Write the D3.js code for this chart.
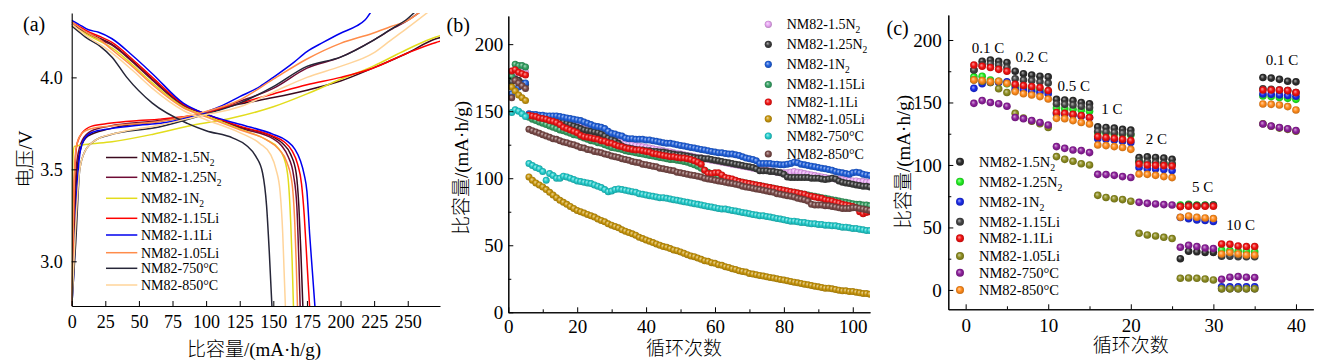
<!DOCTYPE html>
<html>
<head>
<meta charset="utf-8">
<script src="https://cdn.jsdelivr.net/npm/d3@7"></script>
<style>
  body { margin: 0; background: #fff; }
  svg text { font-family: "Liberation Serif", "Times New Roman", "Noto Sans CJK SC", serif; fill: #000; }
  svg text.cjk { font-weight: 300; }
</style>
</head>
<body>
<svg id="chart" width="1340" height="361"></svg>
<script>
// ---------- panel (a): charge / discharge curves, [capacity, voltage] ----------
var aNames = ["NM82-1.5N", "NM82-1.25N", "NM82-1N", "NM82-1.15Li", "NM82-1.1Li", "NM82-1.05Li", "NM82-750°C", "NM82-850°C"];
var aSub = ["2", "2", "2", "", "", "", "", ""];
var aColors = ["#3b0a1e", "#6e0b34", "#e2dc1c", "#ff0000", "#0000ee", "#ff8c4a", "#262638", "#ffd49a"];

var aCharge = [
  [[0,2.75],[2,3.2],[4,3.5],[7,3.62],[12,3.68],[28,3.72],[65,3.76],[95,3.8],[125,3.855],[150,3.89],[175,3.93],[200,3.98],[224,4.05],[249,4.13],[271,4.21],[276,4.22]],
  [[0,2.75],[2,3.3],[4,3.55],[8,3.66],[15,3.71],[28,3.735],[65,3.765],[95,3.8],[125,3.87],[150,3.94],[175,4.05],[200,4.11],[224,4.2],[240,4.27],[250,4.31],[260,4.36]],
  [[0,2.75],[0.5,3.3],[1,3.58],[2,3.625],[10,3.635],[30,3.65],[60,3.69],[90,3.74],[120,3.78],[150,3.84],[175,3.91],[200,3.99],[224,4.06],[249,4.15],[271,4.22],[276,4.23]],
  [[0,2.75],[1,3.1],[2,3.45],[4,3.64],[8,3.7],[15,3.735],[28,3.75],[50,3.765],[65,3.773],[95,3.8],[125,3.86],[150,3.91],[175,3.96],[200,4.0],[224,4.05],[249,4.13],[271,4.19],[276,4.2]],
  [[0,2.75],[2,3.0],[4,3.4],[6,3.58],[9,3.66],[15,3.7],[28,3.72],[50,3.74],[66,3.75],[95,3.8],[110,3.84],[125,3.895],[140,3.95],[150,4.0],[165,4.08],[175,4.14],[187,4.19],[200,4.24],[212,4.28],[218,4.31],[223,4.36]],
  [[0,2.75],[1.5,3.3],[3,3.6],[6,3.68],[12,3.715],[28,3.735],[65,3.76],[95,3.805],[125,3.877],[150,3.99],[175,4.1],[200,4.185],[224,4.24],[237,4.275],[250,4.31],[260,4.36]],
  [[0,2.75],[3,3.1],[6,3.5],[10,3.6],[18,3.66],[28,3.687],[65,3.73],[95,3.79],[125,3.86],[150,3.95],[175,4.06],[200,4.11],[224,4.2],[237,4.26],[250,4.32],[256,4.36]],
  [[0,2.75],[3,3.2],[6,3.5],[10,3.6],[18,3.66],[35,3.7],[65,3.74],[95,3.79],[125,3.84],[150,3.92],[175,4.0],[200,4.06],[224,4.13],[237,4.2],[250,4.27],[266,4.36]]
];

var aDischarge = [
  [[0,4.29],[5,4.27],[12,4.24],[20,4.215],[30,4.18],[45,4.09],[60,3.99],[83,3.85],[100,3.8],[125,3.73],[150,3.675],[157,3.64],[163,3.58],[167,3.48],[169,3.3],[170.5,3.05],[172,2.75]],
  [[0,4.29],[5,4.265],[12,4.235],[20,4.21],[30,4.175],[45,4.085],[60,3.985],[83,3.845],[100,3.8],[125,3.725],[150,3.665],[156,3.63],[161,3.57],[165,3.47],[167.5,3.3],[169,3.0],[170,2.75]],
  [[0,4.28],[5,4.26],[12,4.23],[20,4.2],[30,4.16],[45,4.07],[60,3.97],[83,3.84],[100,3.79],[125,3.72],[145,3.66],[153,3.62],[158,3.56],[161,3.45],[163,3.2],[164,3.0],[165,2.75]],
  [[0,4.3],[5,4.28],[12,4.25],[20,4.225],[30,4.19],[45,4.1],[60,4.0],[83,3.855],[100,3.8],[125,3.735],[150,3.68],[158,3.65],[164,3.6],[168,3.53],[171,3.42],[173,3.25],[175,3.0],[177,2.75]],
  [[0,4.31],[5,4.29],[12,4.26],[20,4.245],[30,4.21],[45,4.12],[60,4.02],[83,3.86],[100,3.8],[125,3.745],[150,3.69],[160,3.655],[166,3.61],[170,3.55],[173,3.47],[175,3.38],[177,3.15],[179,2.95],[181,2.75]],
  [[0,4.3],[5,4.275],[12,4.24],[20,4.21],[30,4.15],[45,4.06],[60,3.96],[83,3.835],[100,3.785],[125,3.715],[145,3.66],[154,3.61],[160,3.54],[164,3.42],[166,3.2],[167,3.0],[168,2.75]],
  [[0,4.28],[5,4.25],[10,4.22],[21,4.17],[30,4.11],[41,4.0],[60,3.86],[86,3.75],[100,3.71],[120,3.67],[130,3.63],[137,3.57],[142,3.48],[145,3.3],[147,3.05],[149,2.75]],
  [[0,4.29],[5,4.26],[12,4.22],[25,4.16],[45,4.04],[60,3.94],[83,3.82],[100,3.77],[125,3.7],[140,3.64],[148,3.58],[152,3.5],[155,3.38],[157,3.15],[158,2.95],[159,2.75]]
];

// ---------- panel (b): cycling at 1 C, cycles 1..105 ----------
var bNames = aNames;
var bColors = ["#e9a6f4", "#3c3c3c", "#2060dc", "#35a063", "#f01414", "#c8960c", "#22cccc", "#7a4a48"];

var b15N2 = [176,178,179,179,179, 147,146.5,146,145.5,145, 145,144.5,144,143.5,143, 142.5,142,141,140,139,
  138,137,136.5,136,135, 134,133,132,131,130, 129,128,127,126,125.5, 125,124.5,124,123.5,123,
  122.5,122,121.5,121,120.5, 120,119.5,119,118.5,118, 117.5,117,116.5,116,115.5, 115,114.5,114,113.5,113,
  112.5,112,111.5,111,110.5, 110,109.5,109,108.5,108, 107.5,107,106.5,106,106, 105.5,105,104.5,104,104,
  104,104.5,105,104.5,104, 103.5,103,102.5,102,101.5, 101,100.5,100,100,99.5, 99,99,98.5,98.5,98, 98,97.5,97.5,97,97];
var b125N2 = [172,174,173,171,170, 147,146.5,146,145.5,145, 144.5,144,143.5,143,142.5, 142,141,140,139,138,
  137,136,135.5,135,134.5, 134,133,131.5,130,129, 128,126,124,123,122.5, 122,121.5,121,121,120.5,
  120.5,120,120,119.5,119.5, 119,118.5,118,117.5,117.5, 117,116.5,116,115.5,115, 115,114.5,114.5,114,113.5,
  113,112.5,112,111.5,111, 110.5,110,109.5,109,108.5, 108,107,105.5,105.5,105.5, 105,105,104.5,104,103,
  101,100.5,100.5,100.5,100.5, 100.5,100.5,100,100,100, 99.5,99,99.5,100,99.5, 98,97,96.5,96,95.5, 95,94.5,94,94,93.5];
var b1N2 = [163,166,168,170,171, 148,147.5,147.5,147,147, 146.5,146.5,146.5,146.5,146, 145.5,145,144.5,144,143.5,
  143,142,141,140,139, 138.5,138,137,135,133.5, 133,132,131.5,130,129.5, 129.5,129,129,129,128.5,
  128.5,128,127.5,127,126.5, 126,126,125.5,125,124.5, 124,123.5,123,122.5,122, 121.5,121,120.5,120,119.5,
  119,119,118.5,118,118, 117.5,117,116,115,114.5, 114,113,111,111,111, 111,110.5,110.5,110,110,
  110.5,111,112,111.5,110.5, 110,109.5,109,108.5,108, 107.5,107,106.5,106,105, 104.5,104,103.5,103,104, 104.5,104,103,102.5,102];
var b115Li = [176,185,184,184,183, 145.5,144,143,142,141, 140,139,138,137,136, 135.5,134.5,133.5,132.5,132,
  131,130,129,128,127.5, 126.5,126,125,124,123, 122.5,122,121.5,120.5,120, 119.5,119,118.5,118,117.5,
  117,116.5,116,115.5,115, 114.5,114,114,113.5,113, 112.5,112,111,110,109, 107.5,106,104.5,103,102,
  101,100,99.5,99,98.5, 98,97.5,97,96.5,96, 95.5,95,94.5,94,93.5, 93,92.5,92,91.5,91,
  90.5,90,89.5,89,88.5, 88,87.5,87,86.5,86, 85.5,85,84.5,84,83.5, 83,82.5,82,81.5,81, 80.5,80.5,80,80,79.5];
var b11Li = [180,181,179,178,177, 147,146.5,146,145,144.5, 144,143,142.5,141.5,140, 138,137,136,135,134,
  132,131,130.5,130,129.5, 129,128,127.5,126.5,126, 125,124,123.5,122.5,122, 121.5,121,121,120.5,120,
  119.5,118.5,118,117.5,117, 116.5,116,116,115.5,115, 115,114.5,114,113,112, 110.5,106,103.5,103.5,104,
  104,102.5,100.5,100,99.5, 98.5,97.5,97,96.5,96, 95.5,95,94.5,94,93.5, 93,92.5,92,91.5,91,
  90.5,90,89.5,89,88.5, 88,87,86.5,86,85.5, 85,84,83.5,83,82, 81.5,80.5,80,79.5,79, 78,75,73.5,74.5,75];
var b105Li = [168,165,162,160,158, 101,98.5,96.5,95,93.5, 91.5,89.5,87.5,85.5,83.5, 82,80.5,79,77.5,76,
  75,74,73,72,71, 69.5,68.5,67.5,66,65, 64,63,61.5,60.5,59.5, 58.5,57.5,56,55,54,
  53,52,51,50,49, 48.5,47.5,46.5,46,45, 44,43,42,41.5,40.5, 39.5,38.5,38,37,36.5,
  35.5,35,34,33.5,32.5, 32,31,30.5,30,29, 28.5,28,27.5,27,26.5, 26,25.5,25,24.5,24,
  23.5,23,22.5,22,21.5, 21,20.5,20,19.5,19, 18.5,18,18,17.5,17, 16.5,16,16,15.5,15.5, 15,14.5,14,14,13.5];
var b750 = [149,151,150,148,146, 111,109.5,108,107,105, 98.5,103.5,102,100,100, 101.5,101,100,99,98,
  97.5,97,96.5,96,95, 94,93,91.5,90,90.5, 91.5,92,91.5,91,90.5, 90,89.5,88.5,88,87.5,
  87,86.5,86,85.5,85.5, 85,84.5,84,83.5,83, 82.5,82,81.5,81,80.5, 80,79.5,79,78.5,78,
  77.5,77,77,76.5,76, 75.5,75,74.5,74,73.5, 73,72.5,72,72,71.5, 71,70.5,70,69.5,69,
  68.5,68,68,67.5,67, 67,66.5,66,66,65.5, 65.5,65,65,64.5,64.5, 64,63.5,63.5,63,62.5, 62.5,62,61.5,61,61];
var b850 = [160,173,171,169,167, 136.5,135.5,134.5,133.5,132.5, 131.5,130.5,129.5,129,128, 127,126.5,125.5,125,124,
  123,122.5,121.5,121,120, 119.5,119,118,117.5,116.5, 116,115.5,114.5,114,113.5, 112.5,112,111.5,110.5,110,
  109.5,109,108.5,107.5,107, 106.5,106,105.5,104.5,104, 103.5,103,102.5,102,101.5, 101,100,99.5,99,98.5,
  98,97.5,97,96.5,96, 95.5,95,94,93.5,93, 92.5,92,91.5,91,90.5, 90,89.5,88.5,88,87.5,
  87,86.5,86,85,84.5, 84,83,80.5,80,80, 80,79.5,79.5,79,78.5, 78,77.5,77.5,77.5,78, 78,77.5,77,76.5,76];
var bValues = [b15N2, b125N2, b1N2, b115Li, b11Li, b105Li, b750, b850];

// ---------- panel (c): rate capability, cycles 1..40 ----------
var cNames = aNames;
var cColors = ["#2d2d2d", "#22ee22", "#1a2ae6", "#444444", "#f01010", "#8c8c20", "#8c1f9a", "#ff8a1a"];
var c15N2 = [176,183,184,183,182, 175,173,172,171,170.5, 152.5,152,151.5,150,149, 130.5,130,129.5,128.5,128, 106,106.5,106,105.5,104.5, 25,31,30.5,30,30, 1,1,1,1,1, 170,169.5,168.5,167,166.5];
var c125N2 = [170.5,171,168,167,165, 163,162,161,160,159, 145.5,145,144.5,144,143, 126,125.5,125,124.5,124, 102.7,102,101.5,101,100.5, 68,68.5,68,68,68, 32,31.5,31,31,30.5, 155.2,154.7,154,153.3,152.5];
var c1N2 = [161.3,165,166,166,166.5, 160.5,160,159,158,157, 141,140.5,140,139,138, 121,120.5,120,119,118, 98,97,96.8,96.3,95.5, 58,57,56,55.5,54.7, 2.5,2.5,2.5,2.5,2.5, 156.8,156.5,156,155.5,155];
var c115Li = [176,180,181,180,178, 169,168,167.5,166.5,165.5, 149,148.5,148,147,146, 127,126.5,126,125.5,125, 103,102.5,102,101.5,101, 67,68,67.5,67.5,68, 27,27,26.5,26.5,26.5, 161,160.5,160,159.5,158];
var c11Li = [180,179,178,176.5,175, 164.5,163.5,162.7,161.9,159.5, 142,141.3,140.5,139.5,138, 122.7,122,121.3,120.5,119.5, 100.8,100,99.7,99.5,99.2, 66.7,67,67,67,67, 36.8,36.5,35.2,34.7,34.7, 160,160,160,159.5,157.9];
var c105Li = [168,167,166,161,158, 141.3,137.5,135,133,130, 106.7,104.5,103,101,100, 75.7,74,73,72.3,71, 45.3,44,43.2,42.1,41.1, 9.3,9.6,9.3,8.8,8, 1,1,1,1,1, 133,131,129.5,128.5,127];
var c750 = [149.3,151.5,150,149,147, 138,137,135.5,134,132, 114.7,113.3,112,111.5,109.9, 92.5,92.3,91.7,90.7,90, 70.1,69.3,68.8,68.3,68, 34.1,35.7,34.7,33.6,33.1, 8.5,10.1,10.7,10.1,9.9, 132.8,131.2,130,129,127.5];
var c850 = [168,167.5,166.7,167,165.3, 158.7,157,156,154.7,152.8, 137.3,137,135.5,134,132.8, 116,115.5,114.7,114,112.5, 92.8,92.5,91.7,90.7,89.9, 58.1,59.2,58.1,57.6,57.1, 28.8,29.9,28.8,28,28, 148.8,148.5,148,146.7,144];
var cValues = [c15N2, c125N2, c1N2, c115Li, c11Li, c105Li, c750, c850];

// rate labels and where they sit, in data units [cycle, capacity]
var cRates = ["0.1 C", "0.2 C", "0.5 C", "1 C", "2 C", "5 C", "10 C", "0.1 C"];
var cRateAt = [[2.7,193.4], [8,186.2], [13.1,163.2], [17.7,144.8], [23.1,120.6], [28.7,82.2], [33.3,52], [38.3,184]];

// ---------- drawing ----------
var svg = d3.select("#chart");
var defs = svg.append("defs");

function sphere(color, id) {
  var g = defs.append("radialGradient").attr("id", id)
    .attr("cx", "50%").attr("cy", "50%").attr("r", "50%").attr("fx", "38%").attr("fy", "35%");
  g.append("stop").attr("offset", "0%").attr("stop-color", d3.interpolateRgb(color, "#fff")(0.6));
  g.append("stop").attr("offset", "55%").attr("stop-color", color);
  g.append("stop").attr("offset", "100%").attr("stop-color", d3.color(color).darker(0.7));
  return "url(#" + id + ")";
}

function clip(id, x, y) {
  defs.append("clipPath").attr("id", id).append("rect")
    .attr("x", x.range()[0]).attr("y", y.range()[1])
    .attr("width", x.range()[1] - x.range()[0]).attr("height", y.range()[0] - y.range()[1]);
  return "url(#" + id + ")";
}

// axes with inward ticks
function axes(x, y, o) {
  var gx = svg.append("g").attr("transform", "translate(0," + y.range()[0] + ")")
    .call(d3.axisBottom(x).tickValues(o.xTicks).tickSizeInner(-5).tickSizeOuter(0).tickPadding(o.xPad));
  var gy = svg.append("g").attr("transform", "translate(" + x.range()[0] + ",0)")
    .call(d3.axisLeft(y).tickValues(o.yTicks).tickFormat(o.yFmt || null).tickSizeInner(-5).tickSizeOuter(0).tickPadding(o.yPad));
  if (o.xMinor) svg.append("g").attr("transform", "translate(0," + y.range()[0] + ")")
    .call(d3.axisBottom(x).tickValues(o.xMinor).tickSizeInner(-3).tickSizeOuter(0).tickFormat(""));
  if (o.yMinor) svg.append("g").attr("transform", "translate(" + x.range()[0] + ",0)")
    .call(d3.axisLeft(y).tickValues(o.yMinor).tickSizeInner(-3).tickSizeOuter(0).tickFormat(""));
  [gx, gy].forEach(function(g) {
    g.selectAll("text").style("font-size", o.font + "px").style("font-family", '"Liberation Serif", serif');
    g.select(".domain").attr("stroke-width", 1.1);
  });
  svg.selectAll(".tick line").attr("stroke-width", 1);
}

function title(txt, x, y, size, rot) {
  svg.append("text").attr("class", "cjk").attr("transform", "translate(" + x + "," + y + ")" + (rot ? " rotate(-90)" : ""))
    .attr("text-anchor", "middle").attr("dy", "0.35em").style("font-size", size + "px").text(txt);
}

function legendText(g, x, y, i, size) {
  var t = g.append("text").attr("x", x).attr("y", y).attr("dy", "0.35em").style("font-size", size + "px").text(aNames[i]);
  if (aSub[i]) t.append("tspan").attr("dy", 4).style("font-size", (size * 0.68) + "px").text(aSub[i]);
}

// ----- (a) -----
var xa = d3.scaleLinear().domain([0, 274]).range([71.7, 440]);
var ya = d3.scaleLinear().domain([2.757, 4.35]).range([306, 13]);
var lineA = d3.line().x(function(d) { return xa(d[0]); }).y(function(d) { return ya(d[1]); }).curve(d3.curveMonotoneX);
var ga = svg.append("g").attr("clip-path", clip("clipA", xa, ya));
aNames.forEach(function(n, i) {
  ga.append("path").attr("d", lineA(aCharge[i])).attr("fill", "none").attr("stroke", aColors[i]).attr("stroke-width", 1.5);
  ga.append("path").attr("d", lineA(aDischarge[i])).attr("fill", "none").attr("stroke", aColors[i]).attr("stroke-width", 1.5);
});
axes(xa, ya, { xTicks: d3.range(0, 251, 25), yTicks: [3.0, 3.5, 4.0], yFmt: d3.format(".1f"), xPad: 9, yPad: 9, font: 18 });
var legA = [157.5, 177.3, 198.3, 218.3, 235, 252.7, 268.3, 285];
var lga = svg.append("g");
aNames.forEach(function(n, i) {
  lga.append("line").attr("x1", 106).attr("x2", 137.3).attr("y1", legA[i]).attr("y2", legA[i])
    .attr("stroke", aColors[i]).attr("stroke-width", 1.5);
  legendText(lga, 141, legA[i], i, 14);
});
title("电压/V", 25.5, 159, 19, true);
title("比容量/(mA·h/g)", 254, 349, 19, false);
svg.append("text").attr("x", 23).attr("y", 31).style("font-size", "20px").text("(a)");

// ----- (b) -----
var xb = d3.scaleLinear().domain([0, 105]).range([508.3, 870]);
var yb = d3.scaleLinear().domain([0, 221]).range([312.3, 16]);
var gb = svg.append("g").attr("clip-path", clip("clipB", xb, yb));
var bFill = bColors.map(function(c, i) { return sphere(c, "sb" + i); });
bValues.forEach(function(vals, i) {
  gb.append("g").selectAll("circle").data(vals).join("circle")
    .attr("cx", function(d, k) { return xb(k + 1); })
    .attr("cy", function(d) { return yb(d); })
    .attr("r", 3.5).attr("fill", bFill[i]);
});
axes(xb, yb, { xTicks: d3.range(0, 101, 20), xMinor: d3.range(10, 101, 20), yTicks: d3.range(0, 201, 50), yMinor: d3.range(25, 201, 50), xPad: 7.5, yPad: 5, font: 19 });
var legB = [24.3, 44.3, 64.3, 84.5, 102, 118.8, 136, 154];
var lgb = svg.append("g");
bNames.forEach(function(n, i) {
  lgb.append("circle").attr("cx", 768.3).attr("cy", legB[i]).attr("r", 3.6).attr("fill", bFill[i]);
  legendText(lgb, 786.7, legB[i], i, 14);
});
title("比容量/(mA·h/g)", 461.5, 168, 19, true);
title("循环次数", 684, 348, 19, false);
svg.append("text").attr("x", 446.5).attr("y", 32).style("font-size", "20px").text("(b)");

// ----- (c) -----
var xc = d3.scaleLinear().domain([-2.1, 42.1]).range([948.3, 1313.3]);
var yc = d3.scaleLinear().domain([-15.5, 220]).range([309.3, 15]);
var cFill = cColors.map(function(c, i) { return sphere(c, "sc" + i); });
var gc = svg.append("g");
cValues.forEach(function(vals, i) {
  gc.append("g").selectAll("circle").data(vals).join("circle")
    .attr("cx", function(d, k) { return xc(k + 1); })
    .attr("cy", function(d) { return yc(d); })
    .attr("r", 3.8).attr("fill", cFill[i]);
});
axes(xc, yc, { xTicks: d3.range(0, 41, 10), xMinor: d3.range(5, 41, 10), yTicks: d3.range(0, 201, 50), yMinor: d3.range(25, 201, 50), xPad: 9, yPad: 6.6, font: 19 });
cRates.forEach(function(r, i) {
  svg.append("text").attr("x", xc(cRateAt[i][0])).attr("y", yc(cRateAt[i][1]))
    .attr("text-anchor", "middle").attr("dy", "0.35em").style("font-size", "15px").text(r);
});
var legC = [161.7, 181.7, 201.7, 221.7, 238.3, 256, 272.7, 290];
var lgc = svg.append("g");
cNames.forEach(function(n, i) {
  lgc.append("circle").attr("cx", 960).attr("cy", legC[i]).attr("r", 4).attr("fill", cFill[i]);
  legendText(lgc, 979, legC[i], i, 14.5);
});
title("比容量/(mA·h/g)", 903, 162, 19, true);
title("循环次数", 1130.7, 345, 19, false);
svg.append("text").attr("x", 886.5).attr("y", 35).style("font-size", "20px").text("(c)");
</script>
</body>
</html>
